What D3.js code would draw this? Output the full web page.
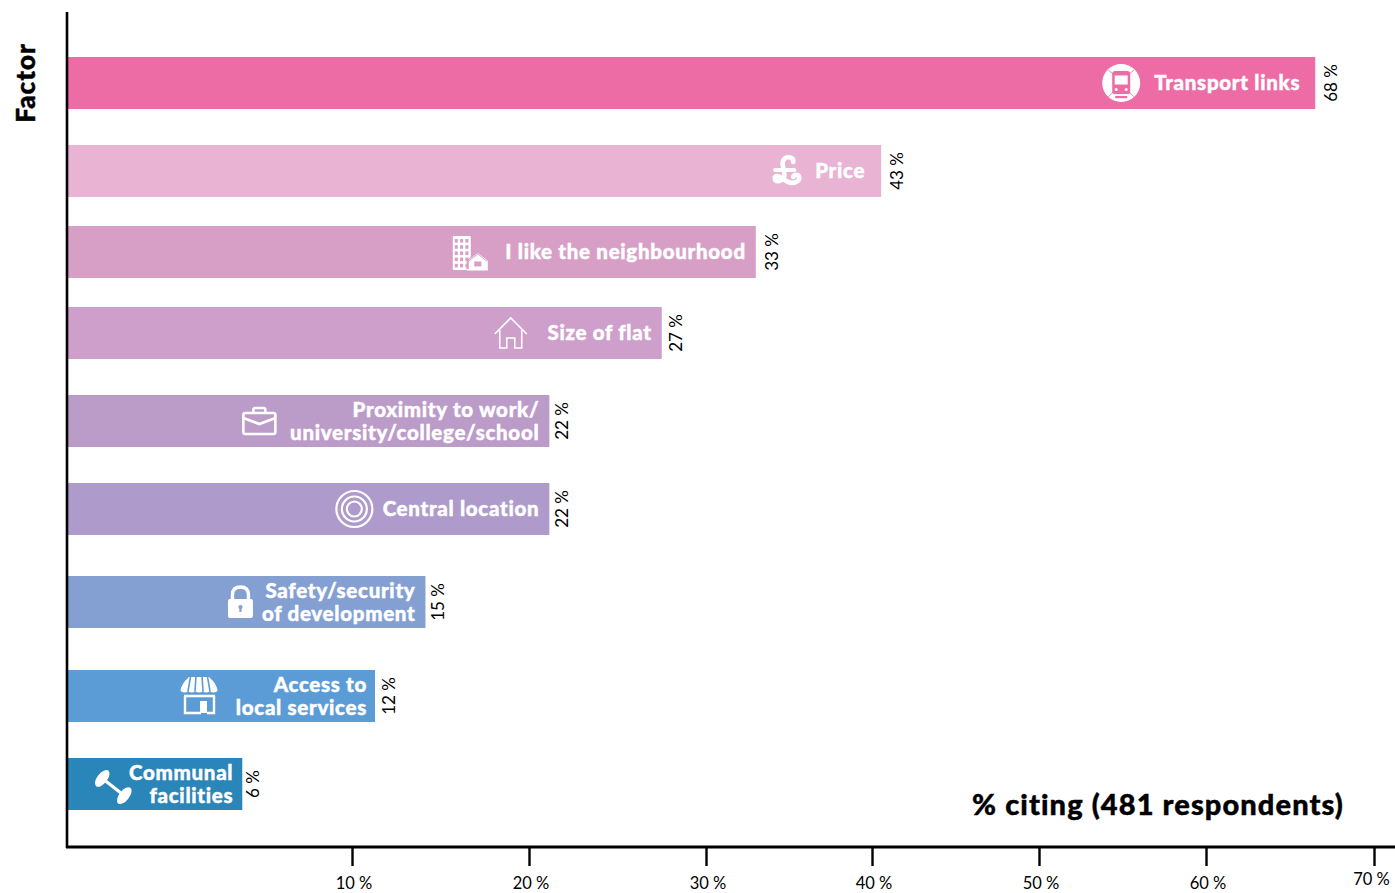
<!DOCTYPE html>
<html>
<head>
<meta charset="utf-8">
<script src="https://cdn.jsdelivr.net/npm/d3@7"></script>
<style>
body { margin: 0; background: #fff; }
svg { display: block; }
text { font-family: "Lato", sans-serif; }
.heavy { font-weight: 900; stroke-width: 0.45; }
</style>
</head>
<body>
<svg id="draw" width="1395" height="893"></svg>
<script>
var factors = ["Transport links", "Price", "I like the neighbourhood", "Size of flat",
    "Proximity to work/|university/college/school", "Central location",
    "Safety/security|of development", "Access to|local services", "Communal|facilities"];
// where each bar actually ends when read against the printed axis
var barValues = [66.5, 40.55, 33, 27.5, 21.15, 21.15, 14.15, 11.3, 6.15];
// what is printed next to each bar
var citedLabels = [68, 43, 33, 27, 22, 22, 15, 12, 6];
var barColours = ["#ee6ca5", "#e9b3d4", "#d89fc6", "#ce9fca", "#bb9bc8", "#ae9bcb", "#849fd2", "#5c9cd6", "#2a85b8"];
var iconNames = ["train", "pound", "building", "house", "briefcase", "target", "lock", "shop", "dumbbell"];
var axisTicks = [10, 20, 30, 40, 50, 60, 70];

var svg = d3.select("#draw");

// the printed axis is not evenly spaced, so the scale has a stop per tick
var xScale = d3.scaleLinear()
    .domain([0, 10, 20, 30, 40, 50, 60, 70])
    .range([67, 352, 529, 706, 872, 1039, 1206, 1374]);
// rows are not evenly spaced either
var yScale = d3.scaleOrdinal()
    .domain(factors)
    .range([57, 145, 226, 307, 395, 483, 576, 670, 758]);
var barHeight = 52;
var labelInset = [15, 16, 10, 10, 10, 10, 10, 8, 9];
var iconInset = [194, 95, 286, 151, 290, 195, 185, 176, 129];
var iconShift = [0, 0, 1, 0, 0, 0, 0, 0, 3];
var valueGap = [15.5, 15.5, 15.5, 13.5, 12.5, 12.5, 12.5, 13.5, 10.5];

// ---------------------------------------------------------------------------
// icons, drawn around 0,0

var icons = {
    train: function (g, bg) {
        g.append("circle").attr("r", 19).attr("fill", "#fff");
        g.append("path").attr("d", "M-13,-13L-8,-9M13,-13L8,-9M-8,9L-13,14M8,9L13,14")
            .attr("stroke", bg).attr("stroke-width", 0.8);
        g.append("path")
            .attr("d", "M-9,-9Q-9,-12 -6,-12H6Q9,-12 9,-9V9Q9,11 6,11H-6Q-9,11 -9,9Z")
            .attr("fill", bg);
        g.append("rect").attr("x", -6.5).attr("y", -7.5).attr("width", 13).attr("height", 9).attr("fill", "#fff");
        g.append("circle").attr("cx", -5).attr("cy", 6.5).attr("r", 1.5).attr("fill", "#fff");
        g.append("circle").attr("cx", 5).attr("cy", 6.5).attr("r", 1.5).attr("fill", "#fff");
        g.append("rect").attr("x", -6).attr("y", 13).attr("width", 12).attr("height", 2.2).attr("fill", bg);
    },
    pound: function (g) {
        g.append("path")
            .attr("d", "M7,-9C8,-14 1,-15 -2,-12C-5,-9 -3,-4 -2,1C-1,6 -3,9 -7,10C-12,11 -13,5 -9,5C-5,5 -3,9 2,11C7,13 13,11 13,7C13,3 8,3 7,6")
            .attr("fill", "none").attr("stroke", "#fff").attr("stroke-width", 4.6).attr("stroke-linecap", "round");
        g.append("path").attr("d", "M-11,-1H8").attr("stroke", "#fff").attr("stroke-width", 4.2).attr("stroke-linecap", "round");
    },
    building: function (g, bg) {
        g.append("rect").attr("x", -17).attr("y", -17).attr("width", 18).attr("height", 34).attr("rx", 1).attr("fill", "#fff");
        d3.range(5).forEach(function (r) {
            d3.range(3).forEach(function (c) {
                g.append("rect").attr("x", -15 + c * 5.3).attr("y", -14 + r * 6.2)
                    .attr("width", 3).attr("height", 3.6).attr("fill", bg);
            });
        });
        g.append("path").attr("d", "M-2,8L8,0L18,8V17H-2Z").attr("fill", bg).attr("stroke", bg).attr("stroke-width", 2.5);
        g.append("path").attr("d", "M0,6L8,0L16,6L18,8V17H-1V8Z").attr("fill", "#fff");
        g.append("path").attr("d", "M-1,8L8,1L17,8").attr("fill", "none").attr("stroke", bg).attr("stroke-width", 1);
        g.append("rect").attr("x", 4.5).attr("y", 8.5).attr("width", 7).attr("height", 5).attr("fill", bg);
        g.append("rect").attr("x", -3).attr("y", 16).attr("width", 21).attr("height", 1.5).attr("fill", "#fff");
    },
    house: function (g) {
        g.append("path")
            .attr("d", "M-16,1L0,-15L16,1M-11,-3V15H-4V5H4V15H11V-3")
            .attr("fill", "none").attr("stroke", "#fff").attr("stroke-width", 1.6);
    },
    briefcase: function (g) {
        g.append("path")
            .attr("d", "M-14,-8H14Q16,-8 16,-6V11Q16,13 14,13H-14Q-16,13 -16,11V-6Q-16,-8 -14,-8ZM-16,-3L0,3L16,-3M-6,-8V-11Q-6,-13 -4,-13H4Q6,-13 6,-11V-8")
            .attr("fill", "none").attr("stroke", "#fff").attr("stroke-width", 2.6);
    },
    target: function (g) {
        [18, 12.5, 7.5].forEach(function (r) {
            g.append("circle").attr("r", r).attr("fill", "none").attr("stroke", "#fff").attr("stroke-width", 2.2);
        });
    },
    lock: function (g, bg) {
        g.append("path").attr("d", "M-8,-2V-7Q-8,-15 0,-15Q8,-15 8,-7V-2")
            .attr("fill", "none").attr("stroke", "#fff").attr("stroke-width", 3.4);
        g.append("rect").attr("x", -12.5).attr("y", -3).attr("width", 25).attr("height", 19).attr("rx", 2).attr("fill", "#fff");
        g.append("path").attr("d", "M-1.2,6H1.2L1,10H-1Z").attr("fill", bg);
        g.append("circle").attr("cy", 5).attr("r", 2.1).attr("fill", bg);
    },
    shop: function (g, bg) {
        // awning: white dome with slits between the ribs
        g.append("path")
            .attr("d", "M-18.5,-5Q-18,-12 -10,-19H10Q18,-12 18.5,-5Q14,-2 11,-5Q7,-2 4,-5Q0,-2 -4,-5Q-7,-2 -11,-5Q-14,-2 -18.5,-5Z")
            .attr("fill", "#fff");
        g.append("path")
            .attr("d", "M-8.5,-19L-11,-5M-3,-20L-4,-5M3,-20L4,-5M8.5,-19L11,-5")
            .attr("stroke", bg).attr("stroke-width", 1.6);
        g.append("path").attr("d", "M-14,0V17H2M8,17H15V0M-15,0H16")
            .attr("fill", "none").attr("stroke", "#fff").attr("stroke-width", 2.4);
        g.append("rect").attr("x", 1).attr("y", 5).attr("width", 7).attr("height", 12).attr("fill", "#fff");
    },
    dumbbell: function (g) {
        g.attr("transform", g.attr("transform") + " rotate(38)");
        g.append("rect").attr("x", -15).attr("y", -1.6).attr("width", 30).attr("height", 3.2).attr("fill", "#fff");
        g.append("ellipse").attr("cx", -14).attr("rx", 5).attr("ry", 10).attr("fill", "#fff");
        g.append("ellipse").attr("cx", 14).attr("rx", 5).attr("ry", 10).attr("fill", "#fff");
    }
};

// ---------------------------------------------------------------------------

function drawBars() {
    var rows = svg.selectAll("g.row")
        .data(factors)
        .enter()
        .append("g")
        .attr("class", "row");

    rows.append("rect")
        .attr("x", xScale(0))
        .attr("y", (d) => yScale(d))
        .attr("width", (d, i) => xScale(barValues[i]) - xScale(0))
        .attr("height", barHeight)
        .attr("fill", (d, i) => barColours[i]);

    // factor names inside the bars
    rows.each(function (d, i) {
        var lines = d.split("|");
        var mid = yScale(d) + barHeight / 2;
        var text = d3.select(this).append("text")
            .attr("class", "heavy")
            .attr("text-anchor", "end")
            .attr("fill", "#fff")
            .attr("stroke", "#fff")
            .attr("font-size", 20.5)
            .attr("letter-spacing", 0.7);
        lines.forEach(function (line, k) {
            text.append("tspan")
                .attr("x", xScale(barValues[i]) - labelInset[i])
                .attr("y", mid + 7 + (k - (lines.length - 1) / 2) * 23)
                .text(line);
        });
    });

    rows.append("g")
        .attr("transform", (d, i) => "translate(" + (xScale(barValues[i]) - iconInset[i]) + "," + (yScale(d) + barHeight / 2 + iconShift[i]) + ")")
        .each(function (d, i) {
            icons[iconNames[i]](d3.select(this), barColours[i]);
        });

    // printed percentages, rotated
    rows.append("text")
        .attr("transform", (d, i) => "translate(" + (xScale(barValues[i]) + valueGap[i]) + "," + (yScale(d) + barHeight / 2) + ") rotate(-90)")
        .attr("text-anchor", "middle")
        .attr("dominant-baseline", "central")
        .attr("font-size", 17)
        .attr("font-weight", 400)
        .attr("fill", "#000")
        .text((d, i) => citedLabels[i] + " %");
}

function drawAxes() {
    var axis = d3.axisBottom(xScale)
        .tickValues(axisTicks)
        .tickSize(19)
        .tickPadding(6)
        .tickFormat((d) => d + " %");
    var gx = svg.append("g")
        .attr("transform", "translate(0,847)")
        .call(axis);
    gx.select(".domain").remove();
    gx.selectAll("line").attr("stroke", "#000").attr("stroke-width", 2.4);
    gx.selectAll("text")
        .attr("font-family", "Lato")
        .attr("font-size", 16.5)
        .attr("font-weight", 400)
        .attr("fill", "#000")
        .attr("dx", (d) => d == 70 ? -3 : 1.5)
        .attr("dy", (d) => d == 70 ? "0.8em" : "1em");

    svg.append("line")
        .attr("x1", xScale(0) - 1).attr("x2", 1395)
        .attr("y1", 847).attr("y2", 847)
        .attr("stroke", "#000").attr("stroke-width", 3);
    svg.append("line")
        .attr("x1", xScale(0)).attr("x2", xScale(0))
        .attr("y1", 12).attr("y2", 848)
        .attr("stroke", "#000").attr("stroke-width", 2.6);

    svg.append("text")
        .attr("class", "heavy")
        .attr("transform", "translate(35,83) rotate(-90)")
        .attr("text-anchor", "middle")
        .attr("font-size", 26)
        .attr("letter-spacing", 1)
        .attr("fill", "#000")
        .attr("stroke", "#000")
        .text("Factor");
    svg.append("text")
        .attr("class", "heavy")
        .attr("x", 1344)
        .attr("y", 815)
        .attr("text-anchor", "end")
        .attr("font-size", 29)
        .attr("letter-spacing", 1.1)
        .attr("fill", "#000")
        .attr("stroke", "#000")
        .text("% citing (481 respondents)");
}

drawBars();
drawAxes();
</script>
</body>
</html>
